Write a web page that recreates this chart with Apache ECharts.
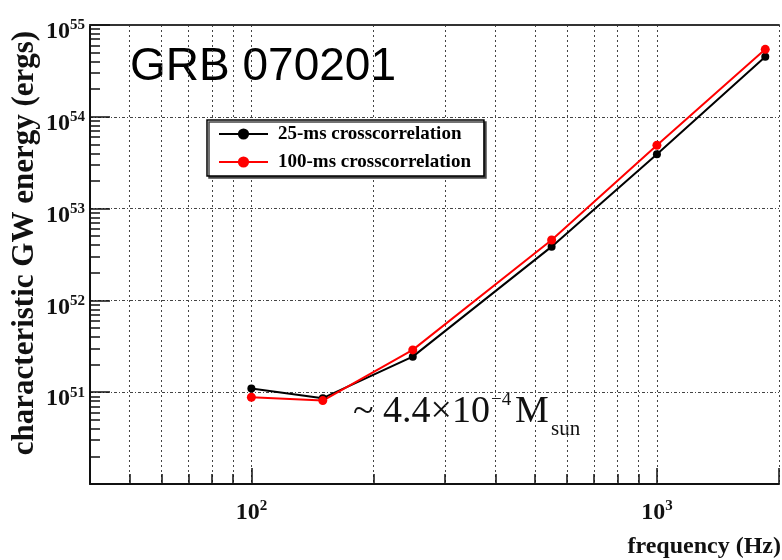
<!DOCTYPE html>
<html>
<head>
<meta charset="utf-8">
<title>GRB 070201</title>
<script src="https://cdn.jsdelivr.net/npm/echarts@6/dist/echarts.min.js"></script>
<style>
  html, body { margin: 0; padding: 0; background: #fff; }
  #main { width: 782px; height: 560px; }
</style>
</head>
<body>
<div id="main"></div>
<script>
// frequency (Hz) of each measured point
const freqs = [100, 150, 250, 550, 1000, 1850];
// characteristic GW energy (ergs)
const energy25ms = [1.10e51, 8.6e50, 2.44e51, 3.85e52, 3.9e53, 4.52e54];
const energy100ms = [8.8e50, 8.1e50, 2.89e51, 4.55e52, 4.9e53, 5.43e54];
// decades that carry a tick label
const xLabelExps = [2, 3];
const yLabelExps = [51, 52, 53, 54, 55];

const serif = "'Liberation Serif', 'Times New Roman', serif";

function pairs(xs, ys) {
  return xs.map((x, i) => [x, ys[i]]);
}

function powLabel(exps) {
  return function (v) {
    const l = Math.log10(v);
    const e = Math.round(l);
    if (Math.abs(l - e) > 1e-6 || exps.indexOf(e) < 0) return "";
    return "10{sup|" + e + "}";
  };
}

const gridLine = { color: "#444", width: 1, type: [2, 3] };

let myChart = echarts.init(document.getElementById("main"));
let option = {
  backgroundColor: "#fff",
  animation: false,
  grid: { left: 90, right: 0, top: 25, bottom: 76 },
  legend: {
    left: 207,
    top: 120,
    orient: "vertical",
    backgroundColor: "#fff",
    borderColor: "#000",
    borderWidth: 1.5,
    shadowColor: "#444",
    shadowOffsetX: 2,
    shadowOffsetY: 2,
    padding: [4, 13, 4, 11],
    itemGap: 8,
    itemWidth: 49,
    itemHeight: 14,
    textStyle: {
      fontFamily: serif,
      fontWeight: "bold",
      fontSize: 19,
      lineHeight: 20,
      color: "#000",
      padding: [0, 0, 0, 5]
    },
    data: ["25-ms crosscorrelation", "100-ms crosscorrelation"]
  },
  xAxis: [
    {
      type: "log",
      logBase: 10,
      min: 40,
      max: 2000,
      axisLine: { lineStyle: { color: "#111", width: 2 } },
      axisTick: { inside: true, length: 16, lineStyle: { color: "#111", width: 1.5 } },
      minorTick: { show: true, splitNumber: 9, length: 10, lineStyle: { color: "#111", width: 1.5 } },
      splitLine: { show: true, lineStyle: gridLine },
      minorSplitLine: { show: true, lineStyle: gridLine },
      axisLabel: {
        margin: 15,
        fontFamily: serif,
        fontWeight: "bold",
        fontSize: 24,
        lineHeight: 28,
        color: "#111",
        formatter: powLabel(xLabelExps),
        rich: {
          sup: { fontFamily: serif, fontWeight: "bold", fontSize: 15, lineHeight: 18, verticalAlign: "top", color: "#111" }
        }
      }
    },
    {
      type: "log",
      position: "top",
      min: 40,
      max: 2000,
      axisLine: { show: true, lineStyle: { color: "#333", width: 2 } },
      axisTick: { show: false },
      axisLabel: { show: false },
      splitLine: { show: false }
    }
  ],
  yAxis: {
    type: "log",
    logBase: 10,
    min: 1e50,
    max: 1e55,
    axisLine: { show: true, lineStyle: { color: "#111", width: 2 } },
    axisTick: { show: true, inside: true, length: 20, lineStyle: { color: "#111", width: 1.5 } },
    minorTick: { show: true, splitNumber: 9, length: 10, lineStyle: { color: "#111", width: 1.5 } },
    splitLine: { show: true, lineStyle: { color: "#444", width: 1, type: [3, 2, 1, 2] } },
    axisLabel: {
      margin: 5,
      padding: [14, 0, 0, 0],
      fontFamily: serif,
      fontWeight: "bold",
      fontSize: 24,
      lineHeight: 28,
      color: "#111",
      formatter: powLabel(yLabelExps),
      rich: {
        sup: { fontFamily: serif, fontWeight: "bold", fontSize: 15, lineHeight: 18, verticalAlign: "top", color: "#111" }
      }
    }
  },
  graphic: [
    {
      type: "text", x: 130, y: 67,
      style: { text: "GRB 070201", fontFamily: "'Liberation Sans', Arial, sans-serif", fontSize: 46, fill: "#000", align: "left", verticalAlign: "middle" }
    },
    {
      type: "text", x: 25, y: 243, rotation: Math.PI / 2,
      style: { text: "characteristic GW energy (ergs)", fontFamily: serif, fontWeight: "bold", fontSize: 31, fill: "#111", align: "center", verticalAlign: "middle" }
    },
    {
      type: "text", x: 781, y: 547,
      style: { text: "frequency (Hz)", fontFamily: serif, fontWeight: "bold", fontSize: 24, fill: "#111", align: "right", verticalAlign: "middle" }
    },
    {
      type: "text", x: 353, y: 412,
      style: { text: "~ 4.4×10", fontFamily: serif, fontSize: 38, fill: "#111", align: "left", verticalAlign: "middle" }
    },
    {
      type: "text", x: 491, y: 400,
      style: { text: "−4", fontFamily: serif, fontSize: 19, fill: "#111", align: "left", verticalAlign: "middle" }
    },
    {
      type: "text", x: 515, y: 412,
      style: { text: "M", fontFamily: serif, fontSize: 38, fill: "#111", align: "left", verticalAlign: "middle" }
    },
    {
      type: "text", x: 551, y: 429,
      style: { text: "sun", fontFamily: serif, fontSize: 21, fill: "#111", align: "left", verticalAlign: "middle" }
    }
  ],
  series: [
    {
      name: "25-ms crosscorrelation",
      type: "line",
      symbol: "circle",
      symbolSize: 8,
      itemStyle: { color: "#000" },
      lineStyle: { color: "#000", width: 2 },
      data: pairs(freqs, energy25ms)
    },
    {
      name: "100-ms crosscorrelation",
      type: "line",
      symbol: "circle",
      symbolSize: 9,
      itemStyle: { color: "#f00" },
      lineStyle: { color: "#f00", width: 2 },
      data: pairs(freqs, energy100ms)
    }
  ]
};
myChart.setOption(option);
</script>
</body>
</html>
